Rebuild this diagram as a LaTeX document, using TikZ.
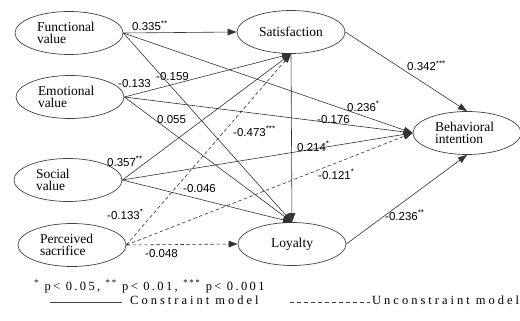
\documentclass[tikz,border=0pt]{standalone}
\usepackage{fontspec}
\setmainfont{Liberation Serif}
\newfontfamily\numfont{Liberation Sans}
\newfontfamily\legfont[LetterSpace=24]{Liberation Serif}
\newfontfamily\legfonta[LetterSpace=19]{Liberation Serif}
\usetikzlibrary{shapes.geometric,arrows.meta}
\begin{document}
\begin{tikzpicture}[x=1pt,y=-1pt,
  lat/.style={ellipse,draw=black!75,line width=0.7pt,minimum width=108pt,minimum height=43pt,inner sep=0pt,font=\fontsize{13.5}{12.5}\selectfont},
  latl/.style={lat,text width=64pt,align=left},
  pth/.style={draw=black!80,line width=0.6pt,-{Triangle[length=9pt,width=6.5pt]}},
  dpth/.style={pth,dash pattern=on 3.5pt off 2.5pt},
  coef/.style={font=\numfont\fontsize{11.5}{12}\selectfont,inner sep=0pt,anchor=base west},
  leg/.style={font=\legfont\fontsize{12.5}{12.5}\selectfont,inner sep=0pt,anchor=base west},
  lega/.style={leg,font=\legfonta\fontsize{12.5}{12.5}\selectfont}]
\useasboundingbox (0,0) rectangle (520,321);
% latent variables
\node[latl] (F) at (69,33) {Functional\\value};
\node[latl] (E) at (70,97) {Emotional\\value};
\node[latl] (S) at (68,180) {Social\\value};
\node[latl] (P) at (72,245) {Perceived\\sacrifice};
\node[lat] (SAT) at (291,32) {Satisfaction};
\node[lat] (LOY) at (292,244) {Loyalty};
\node[latl] (BI) at (467,133) {Behavioral\\intention};
% paths
\draw[pth] (F.east) -- (SAT.west);
\draw[pth] (F.east) -- (BI.west);
\draw[pth] (F.east) -- (LOY.north);
\draw[pth] (E.east) -- (SAT.south);
\draw[pth] (E.east) -- (BI.west);
\draw[pth] (E.east) -- (LOY.north);
\draw[pth] (S.east) -- (SAT.south);
\draw[pth] (S.east) -- (BI.west);
\draw[pth] (S.east) -- (LOY.north);
\draw[dpth] (P.east) -- (SAT.south);
\draw[dpth] (P.east) -- (BI.west);
\draw[dpth] (P.east) -- (LOY.west);
\draw[pth] (SAT.south) -- (LOY.north);
\draw[pth] (SAT.east) -- (BI.north);
\draw[pth] (LOY.east) -- (BI.south);
% coefficients
\node[coef] (c1) at (132,31) {0.335\textsuperscript{**}};
\node[coef] (c2) at (156,81) {-0.159};
\node[coef] (c3) at (118,88) {-0.133};
\node[coef] (c4) at (157,124) {0.055};
\node[coef] (c5) at (347,111) {0.236\textsuperscript{*}};
\node[coef] (c6) at (317,124) {-0.176};
\node[coef] (c7) at (407,71) {0.342\textsuperscript{***}};
\node[coef] (c8) at (233,136) {-0.473\textsuperscript{***}};
\node[coef] (c9) at (107,166) {0.357\textsuperscript{**}};
\node[coef] (c10) at (183,192) {-0.046};
\node[coef] (c11) at (297,151) {0.214\textsuperscript{*}};
\node[coef] (c12) at (318,179) {-0.121\textsuperscript{*}};
\node[coef] (c13) at (107,219) {-0.133\textsuperscript{*}};
\node[coef] (c14) at (145,257) {-0.048};
\node[coef] (c15) at (385,220) {-0.236\textsuperscript{**}};
% legend
\node[lega] (l1) at (34,290) {\textsuperscript{*} p< 0.05, \textsuperscript{**} p< 0.01, \textsuperscript{***} p< 0.001};
\coordinate (s1) at (50,302);
\coordinate (s2) at (122,302);
\draw[black!75,line width=0.7pt] (s1) -- (s2);
\node[leg] (l2) at (130,304) {Constraint model};
\coordinate (d1) at (290,302);
\coordinate (d2) at (370,302);
\draw[black!75,line width=0.7pt,dash pattern=on 4pt off 3pt] (d1) -- (d2);
\node[leg] (l3) at (372,304) {Unconstraint model};
\end{tikzpicture}
\end{document}
